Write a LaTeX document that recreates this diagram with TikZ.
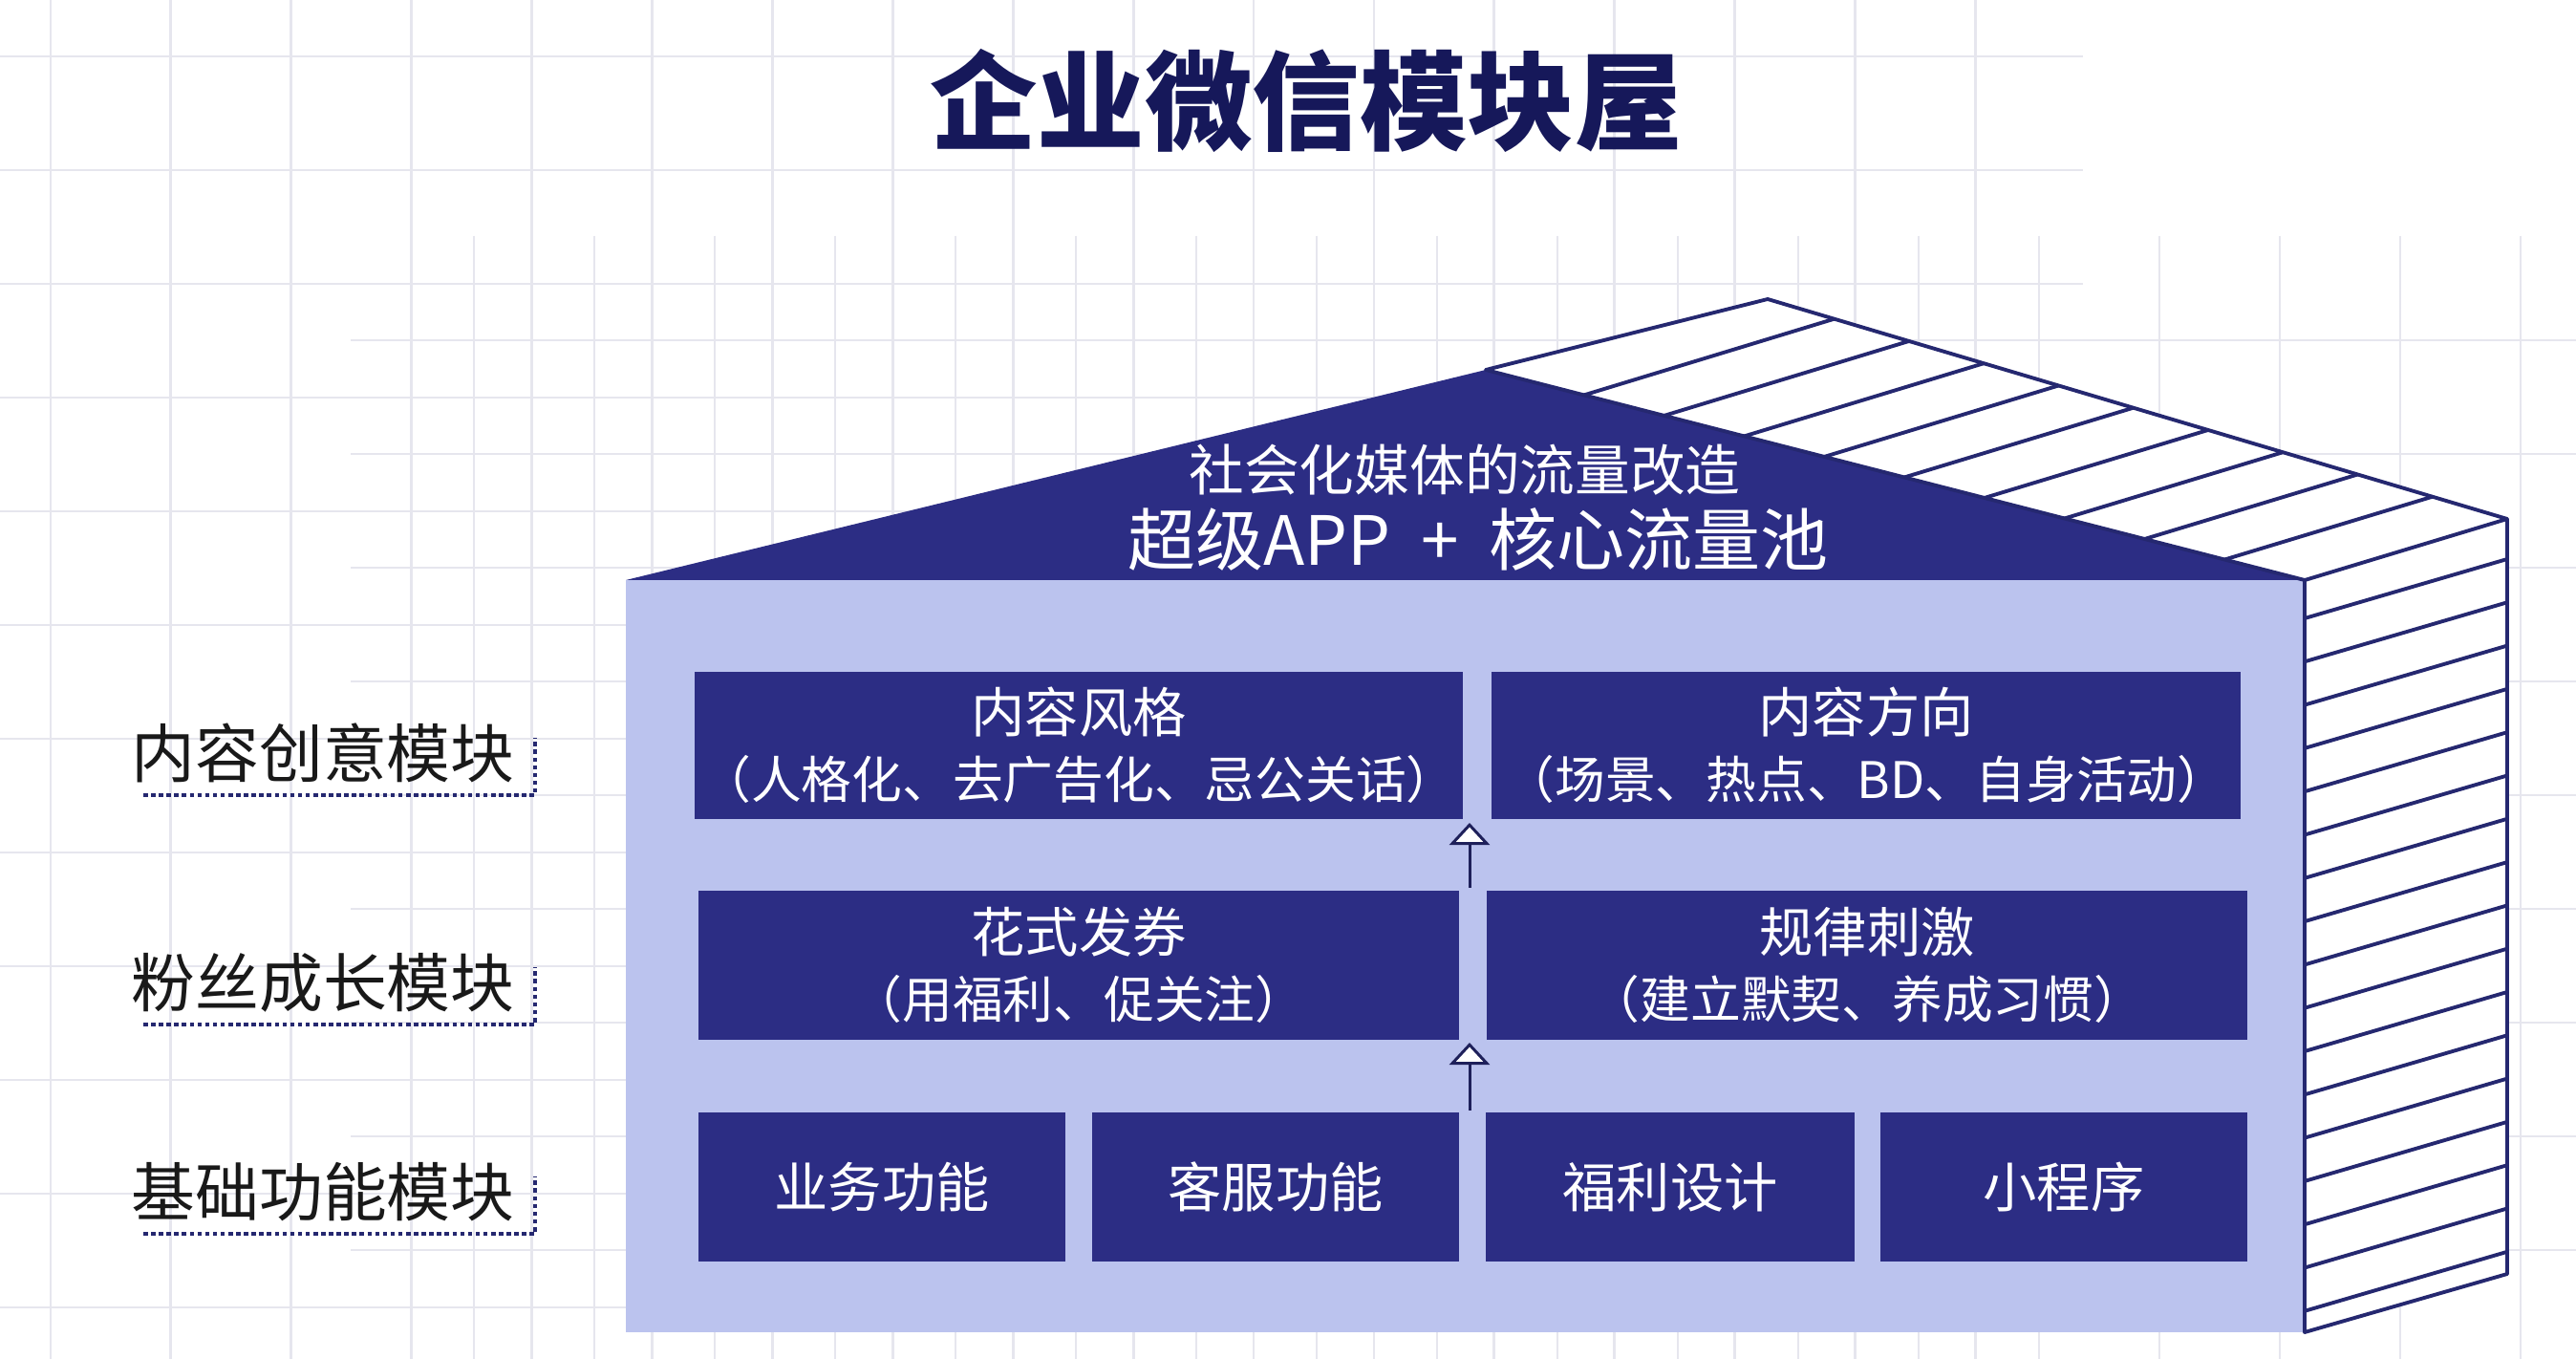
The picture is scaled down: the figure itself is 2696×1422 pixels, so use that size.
\documentclass[tikz,border=0pt]{standalone}
\usepackage{fontspec}
\setmainfont{Noto Sans CJK SC}
\usetikzlibrary{arrows.meta,calc}

\definecolor{housenavy}{RGB}{44,45,132}
\definecolor{wallblue}{RGB}{187,195,238}
\definecolor{titlenavy}{RGB}{22,24,90}
\definecolor{hatchnavy}{RGB}{37,40,112}
\definecolor{gridgray}{RGB}{230,230,238}

\tikzset{
	gridline/.style={gridgray, line width=0.8pt},
	hatch/.style={hatchnavy, line width=1.1pt},
	modbox/.style={fill=housenavy, text=white, inner sep=0pt, align=center, minimum height=1.55cm, font=\fontsize{16}{19.6}\selectfont},
	rooftext/.style={text=white, inner sep=0pt},
	modlabel/.style={inner sep=0pt, text=black!90, font=\fontsize{19}{22}\selectfont},
	labline/.style={hatchnavy, line width=1.3pt, densely dotted},
	uparrow/.style={hatchnavy!80!black, line width=0.85pt, -{Triangle[width=0.42cm, length=0.23cm, fill=white]}},
}
\newcommand{\paren}[1]{{\fontsize{15}{19.6}\selectfont #1}}

\begin{document}
\begin{tikzpicture}[x=0.01cm, y=-0.01cm]
	\useasboundingbox (0,0) rectangle (2696,1422);
	\fill[white] (0,0) rectangle (2696,1422);

	% background grid
	\foreach \i in {0,...,16} \draw[gridline] (53+125.9*\i,0) -- (53+125.9*\i,1422);
	\foreach \j in {0,...,11} \draw[gridline] (0,59+119*\j) -- (2180,59+119*\j);
	\foreach \i in {0,...,17} \draw[gridline] (496+126*\i,247) -- (496+126*\i,1422);
	\foreach \j in {0,...,8} \draw[gridline] (367,356+119*\j) -- (2696,356+119*\j);

	\node[font=\fontsize{32}{36}\selectfont\bfseries, text=titlenavy] (title) at (1367,105) {企业微信模块屋};

	% house
	\coordinate (fl) at (655,607);
	\coordinate (fr) at (2412,607);
	\coordinate (fb) at (2412,1394);
	\coordinate (apex) at (1555,387);
	\coordinate (bapex) at (1850,313);
	\coordinate (br) at (2624,543);
	\coordinate (bb) at (2624,1333);

	\fill[white] (apex) -- (bapex) -- (br) -- (bb) -- (fb) -- (fr) -- cycle;
	\fill[wallblue] (fl) rectangle (fb);
	\fill[housenavy] (fl) -- (apex) -- (fr) -- cycle;
	\foreach \k in {0,...,9} {
		\pgfmathsetmacro{\tf}{0.12+0.0978*\k}
		\pgfmathsetmacro{\tb}{0.09+0.1011*\k}
		\draw[hatch] ($(apex)!\tf!(fr)$) -- ($(bapex)!\tb!(br)$);
	}
	\foreach \k in {0,...,16} \draw[hatch] (2412,647+45.3*\k) -- (2624,585+45.3*\k);
	\draw[hatch, line join=round] (apex) -- (bapex) -- (br) -- (bb) -- (fb) -- (fr) -- cycle;

	\node[rooftext, font=\fontsize{16.4}{18}\selectfont] (roof1) at (1533,492) {社会化媒体的流量改造};
	\node[rooftext, font=\fontsize{20.2}{24}\selectfont] (roof2) at (1547,564) {超级APP\hspace{0.45em}+\hspace{0.45em}核心流量池};

	% modules
	\node[modbox, minimum width=8.04cm, minimum height=1.54cm] (style) at (1129,780) {内容风格\\\paren{（人格化、去广告化、忌公关话）}};
	\node[modbox, minimum width=7.84cm, minimum height=1.54cm] (topic) at (1953,780) {内容方向\\\paren{（场景、热点、BD、自身活动）}};
	\node[modbox, minimum width=7.96cm] (coupon) at (1129,1010) {花式发券\\\paren{（用福利、促关注）}};
	\node[modbox, minimum width=7.96cm] (habit) at (1954,1010) {规律刺激\\\paren{（建立默契、养成习惯）}};
	\node[modbox, minimum width=3.84cm, minimum height=1.56cm] (biz) at (923,1242) {业务功能};
	\node[modbox, minimum width=3.83cm, minimum height=1.56cm] (service) at (1335,1242) {客服功能};
	\node[modbox, minimum width=3.85cm, minimum height=1.56cm] (perk) at (1748,1242) {福利设计};
	\node[modbox, minimum width=3.83cm, minimum height=1.56cm] (mini) at (2160,1242) {小程序};

	\coordinate (up1s) at (1538,929);
	\coordinate (up1e) at (1538,861);
	\coordinate (up2s) at (1538,1162);
	\coordinate (up2e) at (1538,1091);
	\draw[uparrow] (up1s) -- (up1e);
	\draw[uparrow] (up2s) -- (up2e);

	% side labels
	\foreach \y/\name/\txt in {788/lab1/内容创意模块, 1028/lab2/粉丝成长模块, 1247/lab3/基础功能模块} {
		\node[modlabel] (\name) at (338,\y) {\txt};
		\draw[labline] (150,\y+44) -- (560,\y+44) -- (560,\y-16);
	}
\end{tikzpicture}
\end{document}
